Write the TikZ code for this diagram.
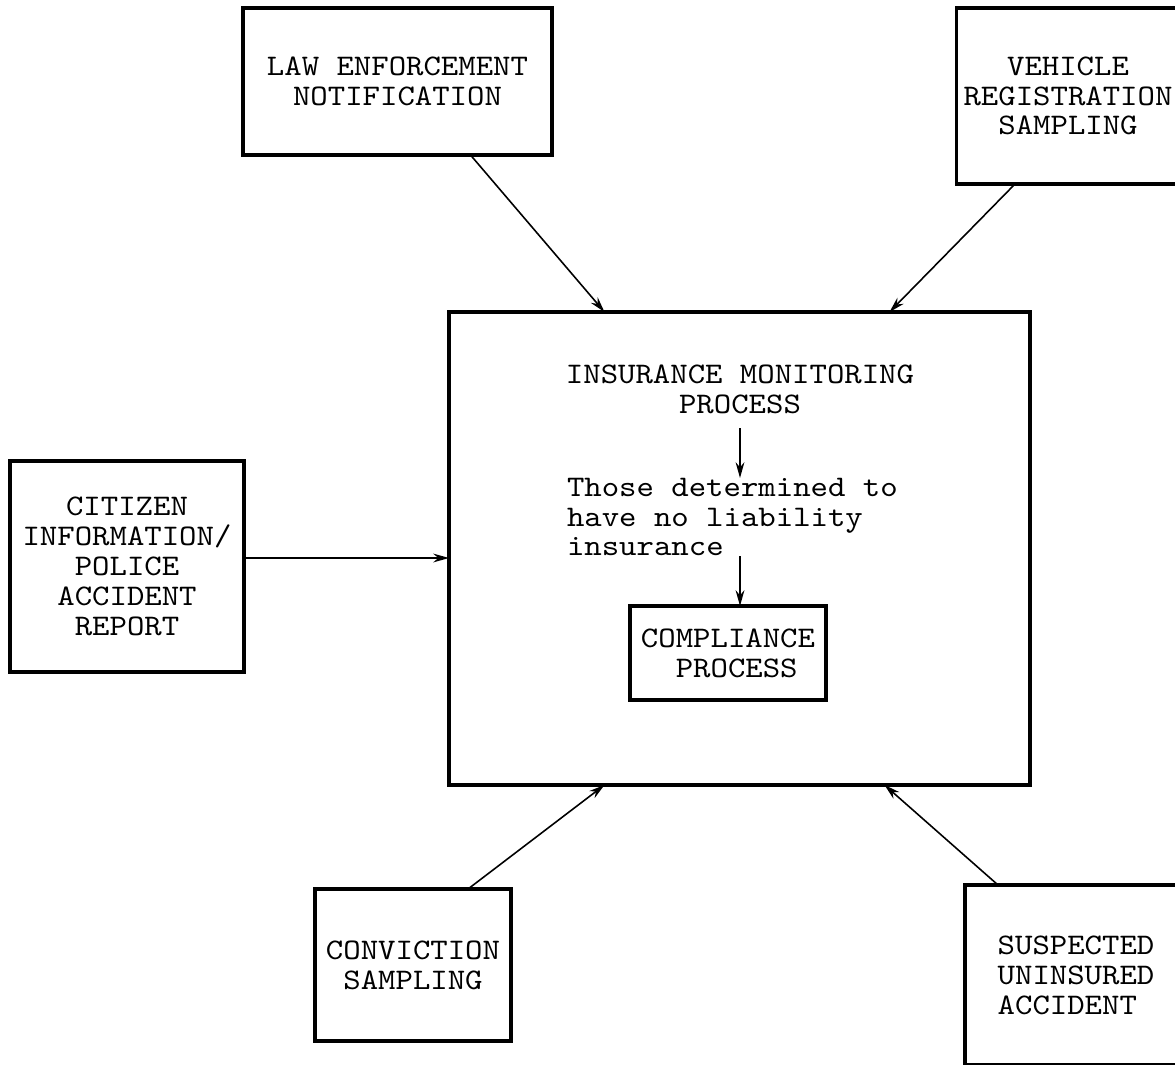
\documentclass[tikz,border=0pt]{standalone}
\usepackage{fontspec}
\setmonofont{lmmono10-regular.otf}[FakeStretch=1.11]
\usepackage{tikz}
\usetikzlibrary{arrows.meta, positioning}

\begin{document}
\begin{tikzpicture}[
  x=0.02cm, y=-0.02cm,
  every node/.style = {font=\ttfamily\fontsize{17}{17}\selectfont},
  srcbox/.style  = {rectangle, draw, line width=2.2pt,
                    inner sep=0pt, outer sep=0pt, align=center},
  mainbox/.style = {rectangle, draw, line width=2.3pt,
                    inner sep=0pt, outer sep=0pt},
  txt/.style     = {inner sep=0pt, outer sep=0pt},
  arr/.style     = {-{Stealth[length=9pt, width=5pt]}, line width=0.9pt},
]
\useasboundingbox (0,0) rectangle (1175,1064);
\clip (0,0) rectangle (1175,1064);

%% ── Central box ───────────────────────────────────────────────────────────
\node[mainbox, minimum width=11.62cm, minimum height=9.46cm]
  at (739.5, 548.5) (main) {};

\node[txt, align=center] at (740, 389) (imp) {
  INSURANCE MONITORING\\
  PROCESS
};

\node[txt, align=left, anchor=north west] at (567, 478) (det) {
  Those determined to\\
  have no liability\\
  insurance
};

\node[srcbox, minimum width=3.92cm, minimum height=1.88cm]
  at (728, 653) (comp) {
  COMPLIANCE\\
  \ PROCESS
};

%% ── Source boxes ──────────────────────────────────────────────────────────
\node[srcbox, minimum width=6.18cm, minimum height=2.94cm]
  at (397.5, 81.5) (law) {
  LAW ENFORCEMENT\\
  NOTIFICATION
};

\node[srcbox, minimum width=4.46cm, minimum height=3.52cm]
  at (1068, 96) (veh) {
  VEHICLE\\
  REGISTRATION\\
  SAMPLING
};

\node[srcbox, minimum width=4.68cm, minimum height=4.22cm]
  at (127, 566.5) (cit) {
  CITIZEN\\
  INFORMATION/\\
  POLICE\\
  ACCIDENT\\
  REPORT
};

\node[srcbox, minimum width=3.92cm, minimum height=3.04cm]
  at (413, 965) (conv) {
  CONVICTION\\
  SAMPLING
};

\node[srcbox, align=left, minimum width=4.44cm, minimum height=3.6cm]
  at (1076, 975) (susp) {
  SUSPECTED\\
  UNINSURED\\
  ACCIDENT
};

%% ── Arrows into the central box ──────────────────────────────────────────
\draw[arr] ([xshift=1.46cm]law.south)   -- ([xshift=-2.7cm]main.north);
\draw[arr] ([xshift=-1.06cm]veh.south)  -- ([xshift=3.0cm]main.north);
\draw[arr] ([yshift=0.17cm]cit.east)    -- ([yshift=0.17cm]cit.east -| main.west);
\draw[arr] ([xshift=1.1cm]conv.north)   -- ([xshift=-2.7cm]main.south);
\draw[arr] ([xshift=-1.56cm]susp.north) -- ([xshift=2.9cm]main.south);

%% ── Inner flow ───────────────────────────────────────────────────────────
\draw[arr] ([yshift=-0.3cm]imp.south) -- (imp.south |- det.north);
\draw[arr] (det.south -| imp.south)   -- (comp.north -| imp.south);

\end{tikzpicture}
\end{document}
